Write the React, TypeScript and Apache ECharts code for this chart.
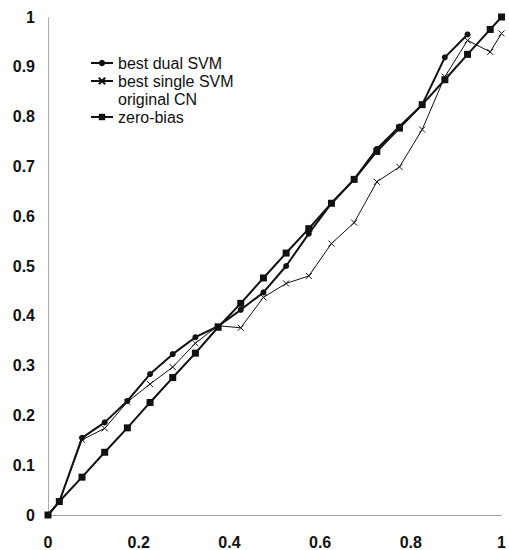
import React, { useEffect, useRef } from "react";
import * as echarts from "echarts";

const xValues = [0, 0.025, 0.075, 0.125, 0.175, 0.225, 0.275, 0.325, 0.375, 0.425, 0.475, 0.525, 0.575, 0.625, 0.675, 0.725, 0.775, 0.825, 0.875, 0.925, 0.975, 1];
const bestDualSVM = [0, 0.027, 0.155, 0.186, 0.229, 0.283, 0.323, 0.357, 0.379, 0.412, 0.447, 0.5, 0.565, 0.626, 0.674, 0.735, 0.78, 0.824, 0.919, 0.965, null, null];
const bestSingleSVM = [0, 0.027, 0.151, 0.174, 0.227, 0.263, 0.297, 0.345, 0.38, 0.376, 0.437, 0.465, 0.48, 0.545, 0.587, 0.669, 0.699, 0.774, 0.88, 0.953, 0.93, 0.967];
const zeroBias = [0, 0.027, 0.076, 0.126, 0.175, 0.226, 0.276, 0.325, 0.377, 0.425, 0.476, 0.526, 0.575, 0.626, 0.674, 0.73, 0.777, 0.824, 0.874, 0.925, 0.975, 1.0];
const seriesNames = ["best dual SVM", "best single SVM", "original CN", "zero-bias"];

const pairs = (ys: (number | null)[]) =>
  xValues.map((x, i) => [x, ys[i]] as [number, number | null]).filter((p) => p[1] !== null);

const INK = "#111";
const AXIS_GRAY = "#9a9a9a";

export default function App() {
  const ref = useRef<HTMLDivElement>(null);
  useEffect(() => {
    if (!ref.current) return;
    const chart = echarts.init(ref.current, null, { renderer: "svg" });
    const axisLine = { show: true, lineStyle: { color: AXIS_GRAY, type: "dotted" as const, width: 1 } };
    const labelStyle = { color: INK, fontSize: 16, fontWeight: "bold" as const, fontFamily: "Liberation Sans, Arial, sans-serif" };
    chart.setOption({
      animation: false,
      backgroundColor: "#fff",
      grid: { left: 48, top: 17, width: 462, height: 500, containLabel: false },
      legend: {
        orient: "vertical",
        left: 85,
        top: 50,
        itemWidth: 22,
        itemHeight: 8,
        itemGap: 2,
        textStyle: { color: INK, fontSize: 16, fontFamily: "Liberation Sans, Arial, sans-serif", lineHeight: 16 },
        data: [
          { name: seriesNames[0] },
          { name: seriesNames[1] },
          { name: seriesNames[2], icon: "none", itemStyle: { opacity: 0 }, lineStyle: { opacity: 0 } },
          { name: seriesNames[3] },
        ],
      },
      xAxis: [
        {
          type: "value",
          min: 0,
          max: 1,
          interval: 0.2,
          axisLine: { ...axisLine, onZero: false },
          axisTick: { show: false },
          splitLine: { show: false },
          axisLabel: { ...labelStyle, margin: 19 },
        },
        {
          type: "value",
          position: "top",
          min: 0,
          max: 1,
          axisLine: axisLine,
          axisTick: { show: false },
          splitLine: { show: false },
          axisLabel: { show: false },
        },
      ],
      yAxis: [
        {
          type: "value",
          min: 0,
          max: 1,
          interval: 0.1,
          axisLine: { ...axisLine, onZero: false },
          axisTick: { show: false },
          splitLine: { show: false },
          axisLabel: { ...labelStyle, margin: 13 },
        },
      ],
      series: [
        {
          name: seriesNames[0],
          type: "line",
          data: pairs(bestDualSVM),
          symbol: "circle",
          symbolSize: 6,
          lineStyle: { color: INK, width: 2 },
          itemStyle: { color: INK },
        },
        {
          name: seriesNames[1],
          type: "line",
          data: pairs(bestSingleSVM),
          symbol: "path://M0,0L10,10M10,0L0,10",
          symbolSize: 6,
          lineStyle: { color: INK, width: 1 },
          itemStyle: { color: INK, borderColor: INK, borderWidth: 1 },
        },
        {
          name: seriesNames[2],
          type: "line",
          data: [],
          symbol: "none",
          lineStyle: { color: INK, width: 1, opacity: 0 },
          itemStyle: { color: INK, opacity: 0 },
        },
        {
          name: seriesNames[3],
          type: "line",
          data: pairs(zeroBias),
          symbol: "rect",
          symbolSize: 7,
          lineStyle: { color: INK, width: 2 },
          itemStyle: { color: INK },
        },
      ],
    });
    return () => chart.dispose();
  }, []);
  return <div ref={ref} style={{ position: "fixed", left: 0, top: 0, width: 509, height: 550, background: "#fff" }} />;
}
